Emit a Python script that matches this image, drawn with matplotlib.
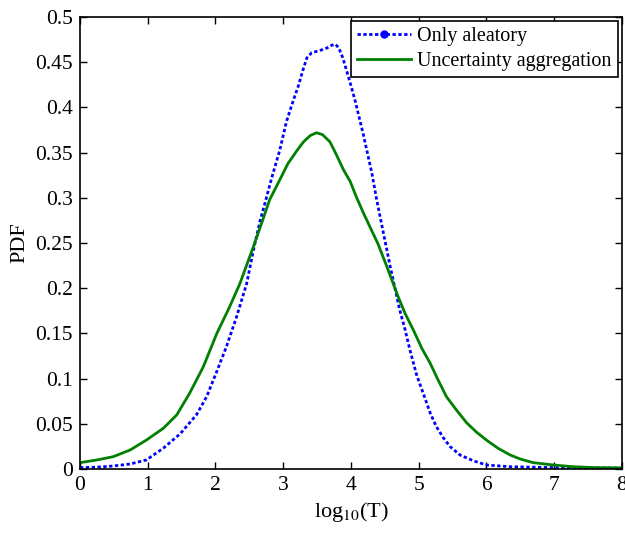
import matplotlib
matplotlib.use("Agg")
import matplotlib.pyplot as plt
from matplotlib.lines import Line2D

plt.rcParams['font.family'] = ['Liberation Serif', 'DejaVu Serif']
plt.rcParams['mathtext.fontset'] = 'stix'

# only aleatory (blue dotted)
x_alea = [0, 0.25, 0.49, 0.74, 0.98, 1.23, 1.48, 1.72, 1.87, 2.02, 2.16, 2.31,
          2.46, 2.56, 2.66, 2.73, 2.83, 2.95, 3.05, 3.15, 3.22, 3.29, 3.35, 3.42,
          3.54, 3.65, 3.72, 3.77, 3.82, 3.88, 3.99, 4.06, 4.18, 4.31, 4.38, 4.45,
          4.58, 4.72, 4.8, 4.87, 4.97, 5.09, 5.17, 5.26, 5.36, 5.46, 5.61, 5.81,
          6.0, 6.35, 6.69, 7.0, 8.0]
y_alea = [0.0015, 0.002, 0.0033, 0.0055, 0.010, 0.023, 0.039, 0.060, 0.080,
          0.108, 0.135, 0.168, 0.205, 0.242, 0.275, 0.294, 0.322, 0.353, 0.385,
          0.408, 0.423, 0.441, 0.455, 0.4606, 0.463, 0.466, 0.469, 0.470, 0.466,
          0.455, 0.427, 0.408, 0.371, 0.327, 0.298, 0.272, 0.224, 0.176, 0.154,
          0.132, 0.104, 0.079, 0.062, 0.047, 0.035, 0.025, 0.0155, 0.009,
          0.0044, 0.0025, 0.002, 0.0015, 0.001]

# uncertainty aggregation (green solid)
x_agg = [0, 0.25, 0.49, 0.74, 0.98, 1.23, 1.43, 1.62, 1.82, 2.02, 2.2, 2.36,
         2.56, 2.7, 2.8, 2.95, 3.07, 3.2, 3.3, 3.4, 3.49, 3.58, 3.69, 3.79,
         3.89, 3.99, 4.08, 4.18, 4.28, 4.4, 4.53, 4.7, 4.8, 4.92, 5.05, 5.17,
         5.29, 5.41, 5.56, 5.71, 5.85, 6.0, 6.17, 6.35, 6.5, 6.69, 6.99, 7.28,
         7.6, 8.0]
y_agg = [0.007, 0.010, 0.0136, 0.021, 0.032, 0.045, 0.060, 0.084, 0.113, 0.150,
         0.178, 0.205, 0.246, 0.276, 0.298, 0.320, 0.338, 0.352, 0.362, 0.369,
         0.372, 0.370, 0.362, 0.347, 0.331, 0.318, 0.301, 0.284, 0.268, 0.249,
         0.224, 0.190, 0.172, 0.154, 0.133, 0.117, 0.098, 0.080, 0.065, 0.051,
         0.041, 0.032, 0.023, 0.0155, 0.011, 0.007, 0.0044, 0.0025, 0.0015,
         0.0012]

fig = plt.figure(figsize=(6.25, 5.35), dpi=100)
ax = fig.add_axes([0.128, 0.1234, 0.867, 0.8446])

blue_ls = (0, (1.2, 0.9))
ax.plot(x_alea, y_alea, color='blue', lw=2, linestyle=blue_ls)
ax.plot(x_agg, y_agg, color='green', lw=2)

ax.set_xlim(0, 8)
ax.set_ylim(0, 0.5)
ax.set_xticks(range(0, 9))
ax.set_yticks([0, 0.05, 0.1, 0.15, 0.2, 0.25, 0.3, 0.35, 0.4, 0.45, 0.5])
ax.set_yticklabels(['0', '0.05', '0.1', '0.15', '0.2', '0.25', '0.3', '0.35',
                    '0.4', '0.45', '0.5'])
ax.tick_params(direction='in', top=True, right=True, labelsize=15.5,
               length=5, width=1, pad=5)
for s in ax.spines.values():
    s.set_linewidth(1.2)

ax.set_xlabel('log$_{10}$(T)', fontsize=16, labelpad=4)
ax.set_ylabel('PDF', fontsize=16, labelpad=4)

handles = [Line2D([], [], color='blue', lw=2, linestyle=blue_ls, marker='o',
                  markersize=5, markevery=[1]),
           Line2D([], [], color='green', lw=2)]
leg = ax.legend(handles, ['Only aleatory', 'Uncertainty aggregation'],
                loc='upper right', fontsize=14.5, fancybox=False,
                framealpha=1, edgecolor='black', borderaxespad=0.2,
                handlelength=2.7, borderpad=0.3, labelspacing=0.3,
                handletextpad=0.3)
leg.get_frame().set_linewidth(1.2)

fig.savefig('out.png', dpi=100)
